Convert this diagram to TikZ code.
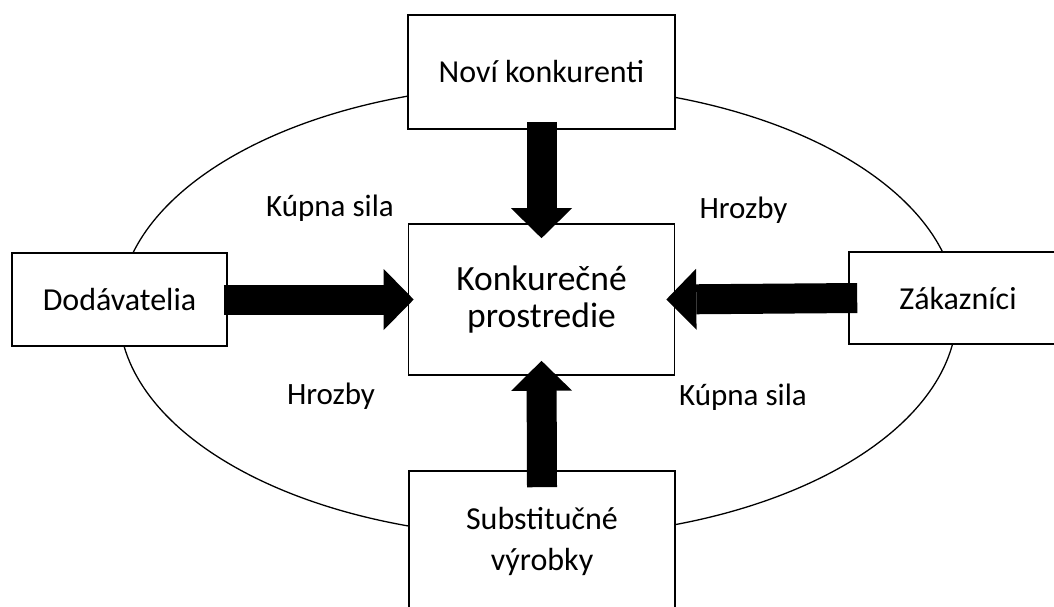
\documentclass[tikz,border=0pt]{standalone}
\usepackage{fontspec}
\setmainfont{Carlito}
\usetikzlibrary{arrows.meta}

\tikzset{
  box/.style={draw, fill=white, line width=1.6pt, align=center, inner sep=0pt},
  sila/.style={line width=30pt, -{Triangle[length=30pt, width=61pt, line width=0pt]}},
  popis/.style={anchor=base, font=\fontsize{31}{37}\selectfont},
}

\begin{document}
\begin{tikzpicture}[x=1pt, y=-1pt, font=\fontsize{32}{38}\selectfont]
  \useasboundingbox (0,0) rectangle (1054,606);
  \clip (0,0) rectangle (1054,606);

  % elipsa
  \draw[line width=1.3pt] (538,311) ellipse [x radius=419, y radius=226];

  % boxy
  \node[box, minimum width=267pt, minimum height=114pt] (novi) at (541.5,72) {Noví konkurenti};
  \node[box, minimum width=266pt, minimum height=151pt, font=\fontsize{35.5}{37}\selectfont]
    (prostredie) at (541.5,299.5) {Konkurečné\\prostredie};
  \node[box, minimum width=215pt, minimum height=93pt] (dodavatelia) at (119.5,299.5) {Dodávatelia};
  \node[box, minimum width=218pt, minimum height=92pt] (zakaznici) at (958,298) {Zákazníci};
  \node[box, minimum width=266pt, minimum height=140pt, font=\fontsize{32}{41}\selectfont]
    (substituty) at (542,541) {Substitučné\\výrobky};

  % sipky
  \draw[sila] ([yshift=8pt]novi.south) -- ([yshift=-15pt]prostredie.north);
  \draw[sila] ([xshift=-4pt]dodavatelia.east) -- ([xshift=6pt]prostredie.west);
  \draw[sila] ([xshift=9pt]zakaznici.west) -- ([xshift=-9pt]prostredie.east);
  \draw[sila] ([yshift=-17pt]substituty.north) -- ([yshift=15pt]prostredie.south);

  % popisy
  \node[popis] (kupna1) at (330,216) {Kúpna sila};
  \node[popis] (hrozby1) at (743.5,218) {Hrozby};
  \node[popis] (hrozby2) at (331,404) {Hrozby};
  \node[popis] (kupna2) at (743,405) {Kúpna sila};
\end{tikzpicture}
\end{document}
